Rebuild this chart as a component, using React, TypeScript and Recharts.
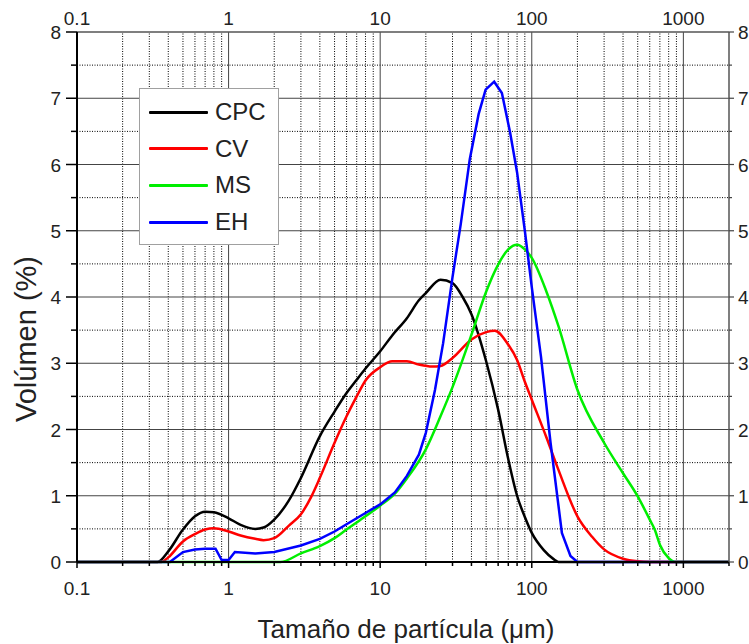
import React from 'react';
import { LineChart, Line, XAxis, YAxis, ReferenceLine, Label } from 'recharts';

// tick values
const majorX = [0.1, 1, 10, 100, 1000];
const minorX = [
  0.2, 0.3, 0.4, 0.5, 0.6, 0.7, 0.8, 0.9,
  2, 3, 4, 5, 6, 7, 8, 9,
  20, 30, 40, 50, 60, 70, 80, 90,
  200, 300, 400, 500, 600, 700, 800, 900,
];
const xEdge = 2000;
const majorY = [0, 1, 2, 3, 4, 5, 6, 7, 8];
const minorY = [0.5, 1.5, 2.5, 3.5, 4.5, 5.5, 6.5, 7.5];

// CPC
const cpcSize = [0.1, 0.34, 0.4, 0.5, 0.6, 0.7, 0.8, 1, 1.2, 1.5, 1.7, 2, 2.5, 3, 4, 5, 6, 7, 8, 10, 12, 15, 18, 20, 25, 30, 35, 40, 50, 60, 70, 80, 90, 100, 120, 140, 150, 2000];
const cpcVol = [0, 0, 0.16, 0.49, 0.69, 0.76, 0.75, 0.66, 0.56, 0.5, 0.52, 0.64, 0.93, 1.27, 1.9, 2.27, 2.55, 2.75, 2.92, 3.18, 3.42, 3.68, 3.95, 4.06, 4.26, 4.21, 4.0, 3.74, 3.03, 2.3, 1.55, 1.0, 0.68, 0.44, 0.18, 0.04, 0, 0];

// CV
const cvSize = [0.1, 0.36, 0.4, 0.5, 0.6, 0.7, 0.8, 1, 1.2, 1.5, 1.7, 2, 2.5, 3, 3.5, 4, 5, 6, 7, 8, 10, 12, 15, 18, 22, 25, 30, 40, 50, 57, 70, 80, 90, 100, 125, 150, 200, 250, 300, 400, 500, 600, 2000];
const cvVol = [0, 0, 0.07, 0.31, 0.42, 0.49, 0.51, 0.46, 0.4, 0.35, 0.33, 0.36, 0.55, 0.72, 0.98, 1.27, 1.8, 2.2, 2.5, 2.74, 2.94, 3.03, 3.03, 2.98, 2.95, 2.96, 3.08, 3.36, 3.47, 3.49, 3.28, 3.05, 2.72, 2.45, 1.88, 1.39, 0.69, 0.38, 0.19, 0.05, 0.01, 0, 0];

// MS
const msSize = [0.1, 2.2, 3, 4, 5, 6, 8, 10, 12.5, 15, 20, 25, 30, 40, 50, 60, 70, 80, 90, 100, 125, 150, 200, 300, 400, 500, 600, 650, 700, 800, 900, 2000];
const msVol = [0, 0, 0.13, 0.24, 0.36, 0.49, 0.69, 0.85, 1.03, 1.26, 1.7, 2.2, 2.64, 3.43, 4.08, 4.49, 4.72, 4.79, 4.72, 4.59, 4.08, 3.56, 2.6, 1.8, 1.34, 0.99, 0.64, 0.48, 0.26, 0.06, 0, 0];

// EH
const ehSize = [0.1, 0.41, 0.5, 0.6, 0.7, 0.82, 0.9, 1.0, 1.1, 1.5, 2, 3, 4, 5, 6, 8, 10, 12.5, 15, 18, 20, 23, 26, 30, 34, 39, 44.6, 49.6, 56.5, 63.5, 72, 80, 90, 100, 115, 133, 158, 180, 200, 2000];
const ehVol = [0, 0, 0.15, 0.19, 0.2, 0.2, 0.03, 0.03, 0.15, 0.13, 0.15, 0.25, 0.35, 0.46, 0.57, 0.74, 0.87, 1.05, 1.3, 1.62, 1.95, 2.6, 3.3, 4.3, 5.1, 6.08, 6.76, 7.13, 7.25, 7.08, 6.48, 5.88, 5.0, 4.15, 3.1, 1.8, 0.44, 0.09, 0, 0];

const toRows = (sizes: number[], vols: number[]) => sizes.map((s, i) => ({ size: s, vol: vols[i] }));

const series = [
  { name: 'CPC', color: '#000000', rows: toRows(cpcSize, cpcVol), curve: 'monotone' },
  { name: 'CV', color: '#ff0000', rows: toRows(cvSize, cvVol), curve: 'monotone' },
  { name: 'MS', color: '#00ee00', rows: toRows(msSize, msVol), curve: 'monotone' },
  { name: 'EH', color: '#0000ff', rows: toRows(ehSize, ehVol), curve: 'linear' },
];

const FONT = '"Liberation Sans", Arial, sans-serif';
const xTicks = [...majorX, ...minorX, xEdge].sort((a, b) => a - b);
const yTicks = [...majorY, ...minorY].sort((a, b) => a - b);

function BottomTick({ x, y, payload }: any) {
  const major = majorX.includes(payload.value);
  return (
    <g>
      <line x1={x} x2={x} y1={y} y2={y + (major ? 6 : 4)} stroke="#000" strokeWidth={1.5} />
      {major && (
        <text x={x} y={y + 33} textAnchor="middle" fontSize={19} fill="#222" fontFamily={FONT}>
          {payload.value}
        </text>
      )}
    </g>
  );
}

function TopTick({ x, y, payload }: any) {
  if (!majorX.includes(payload.value)) return <g />;
  return (
    <text x={x} y={y - 7.5} textAnchor="middle" fontSize={19} fill="#222" fontFamily={FONT}>
      {payload.value}
    </text>
  );
}

function LeftTick({ x, y, payload }: any) {
  const major = Number.isInteger(payload.value);
  return (
    <g>
      <line x1={x - (major ? 11 : 6)} x2={x} y1={y} y2={y} stroke="#000" strokeWidth={1.5} />
      {major && (
        <text x={x - 16} y={y + 7} textAnchor="end" fontSize={19} fill="#222" fontFamily={FONT}>
          {payload.value}
        </text>
      )}
    </g>
  );
}

function RightTick({ x, y, payload }: any) {
  const major = Number.isInteger(payload.value);
  return (
    <g>
      <line x1={x} x2={x + (major ? 5 : 3)} y1={y} y2={y} stroke="#444" strokeWidth={1.2} />
      {major && (
        <text x={x + 9} y={y + 7} textAnchor="start" fontSize={19} fill="#222" fontFamily={FONT}>
          {payload.value}
        </text>
      )}
    </g>
  );
}

export default function App() {
  return (
    <div style={{ position: 'absolute', left: 0, top: 0, width: 749, height: 644, background: '#fff', fontFamily: FONT }}>
      <LineChart width={749} height={644} margin={{ top: 0, right: 0, bottom: 0, left: 0 }}>
        <XAxis
          xAxisId="b"
          dataKey="size"
          type="number"
          scale="log"
          domain={[0.1, 2000]}
          allowDataOverflow
          ticks={xTicks}
          interval={0}
          height={82}
          tickSize={0}
          tickMargin={0}
          tickLine={false}
          tick={<BottomTick />}
          axisLine={{ stroke: '#000', strokeWidth: 2 }}
        >
          <Label
            content={({ viewBox }: any) => {
              const vb = viewBox || { x: 77, y: 562, width: 652 };
              return (
                <text x={vb.x + vb.width / 2 + 3} y={vb.y + 76} textAnchor="middle" fontSize={26} fill="#222" fontFamily={FONT}>
                  Tamaño de partícula (μm)
                </text>
              );
            }}
          />
        </XAxis>
        <XAxis
          xAxisId="t"
          dataKey="size"
          orientation="top"
          type="number"
          scale="log"
          domain={[0.1, 2000]}
          allowDataOverflow
          ticks={xTicks}
          interval={0}
          height={32}
          tickSize={0}
          tickMargin={0}
          tickLine={false}
          tick={<TopTick />}
          axisLine={{ stroke: '#555', strokeWidth: 1.5 }}
        />
        <YAxis
          yAxisId="l"
          type="number"
          domain={[0, 8]}
          ticks={yTicks}
          interval={0}
          width={77}
          tickSize={0}
          tickMargin={0}
          tickLine={false}
          tick={<LeftTick />}
          axisLine={{ stroke: '#000', strokeWidth: 2 }}
        >
          <Label
            content={({ viewBox }: any) => {
              const vb = viewBox || { x: 0, y: 32, height: 530 };
              const cx = vb.x + 36;
              const cy = vb.y + vb.height / 2 + 42;
              return (
                <text x={cx} y={cy} transform={`rotate(-90 ${cx} ${cy})`} textAnchor="middle" fontSize={29} fill="#222" fontFamily={FONT}>
                  Volúmen (%)
                </text>
              );
            }}
          />
        </YAxis>
        <YAxis
          yAxisId="r"
          orientation="right"
          type="number"
          domain={[0, 8]}
          ticks={yTicks}
          interval={0}
          width={20}
          tickSize={0}
          tickMargin={0}
          tickLine={false}
          tick={<RightTick />}
          axisLine={{ stroke: '#555', strokeWidth: 1.5 }}
        />

        {minorX.map((v) => (
          <ReferenceLine key={`mx${v}`} x={v} xAxisId="b" yAxisId="l" stroke="#000" strokeWidth={1} strokeDasharray="1 1.5" />
        ))}
        {minorY.map((v) => (
          <ReferenceLine key={`my${v}`} y={v} xAxisId="b" yAxisId="l" stroke="#000" strokeWidth={1} strokeDasharray="1 1.5" />
        ))}
        {majorX.slice(1).map((v) => (
          <ReferenceLine key={`Mx${v}`} x={v} xAxisId="b" yAxisId="l" stroke="#444" strokeWidth={1} />
        ))}
        {majorY.slice(1, -1).map((v) => (
          <ReferenceLine key={`My${v}`} y={v} xAxisId="b" yAxisId="l" stroke="#444" strokeWidth={1} />
        ))}

        {/* invisible series so the top and right axes get drawn */}
        <Line
          xAxisId="t"
          yAxisId="r"
          data={series[3].rows}
          dataKey="vol"
          stroke="none"
          dot={false}
          activeDot={false}
          legendType="none"
          isAnimationActive={false}
        />

        {series.map((s) => (
          <Line
            key={s.name}
            xAxisId="b"
            yAxisId="l"
            data={s.rows}
            dataKey="vol"
            name={s.name}
            type={s.curve as any}
            stroke={s.color}
            strokeWidth={2.5}
            dot={false}
            activeDot={false}
            isAnimationActive={false}
          />
        ))}
      </LineChart>

      <div
        style={{
          position: 'absolute',
          left: 139,
          top: 88,
          width: 138,
          height: 155,
          border: '1.5px solid #a0a0a0',
          background: '#fff',
        }}
      >
        {series.map((s, i) => (
          <div key={s.name} style={{ position: 'absolute', left: 9, top: 23 + i * 36.7 - 14, height: 28, display: 'flex', alignItems: 'center' }}>
            <div style={{ width: 59, height: 3, background: s.color, borderRadius: 1 }} />
            <span style={{ marginLeft: 7, fontSize: 24, color: '#222', lineHeight: '28px' }}>{s.name}</span>
          </div>
        ))}
      </div>
    </div>
  );
}
